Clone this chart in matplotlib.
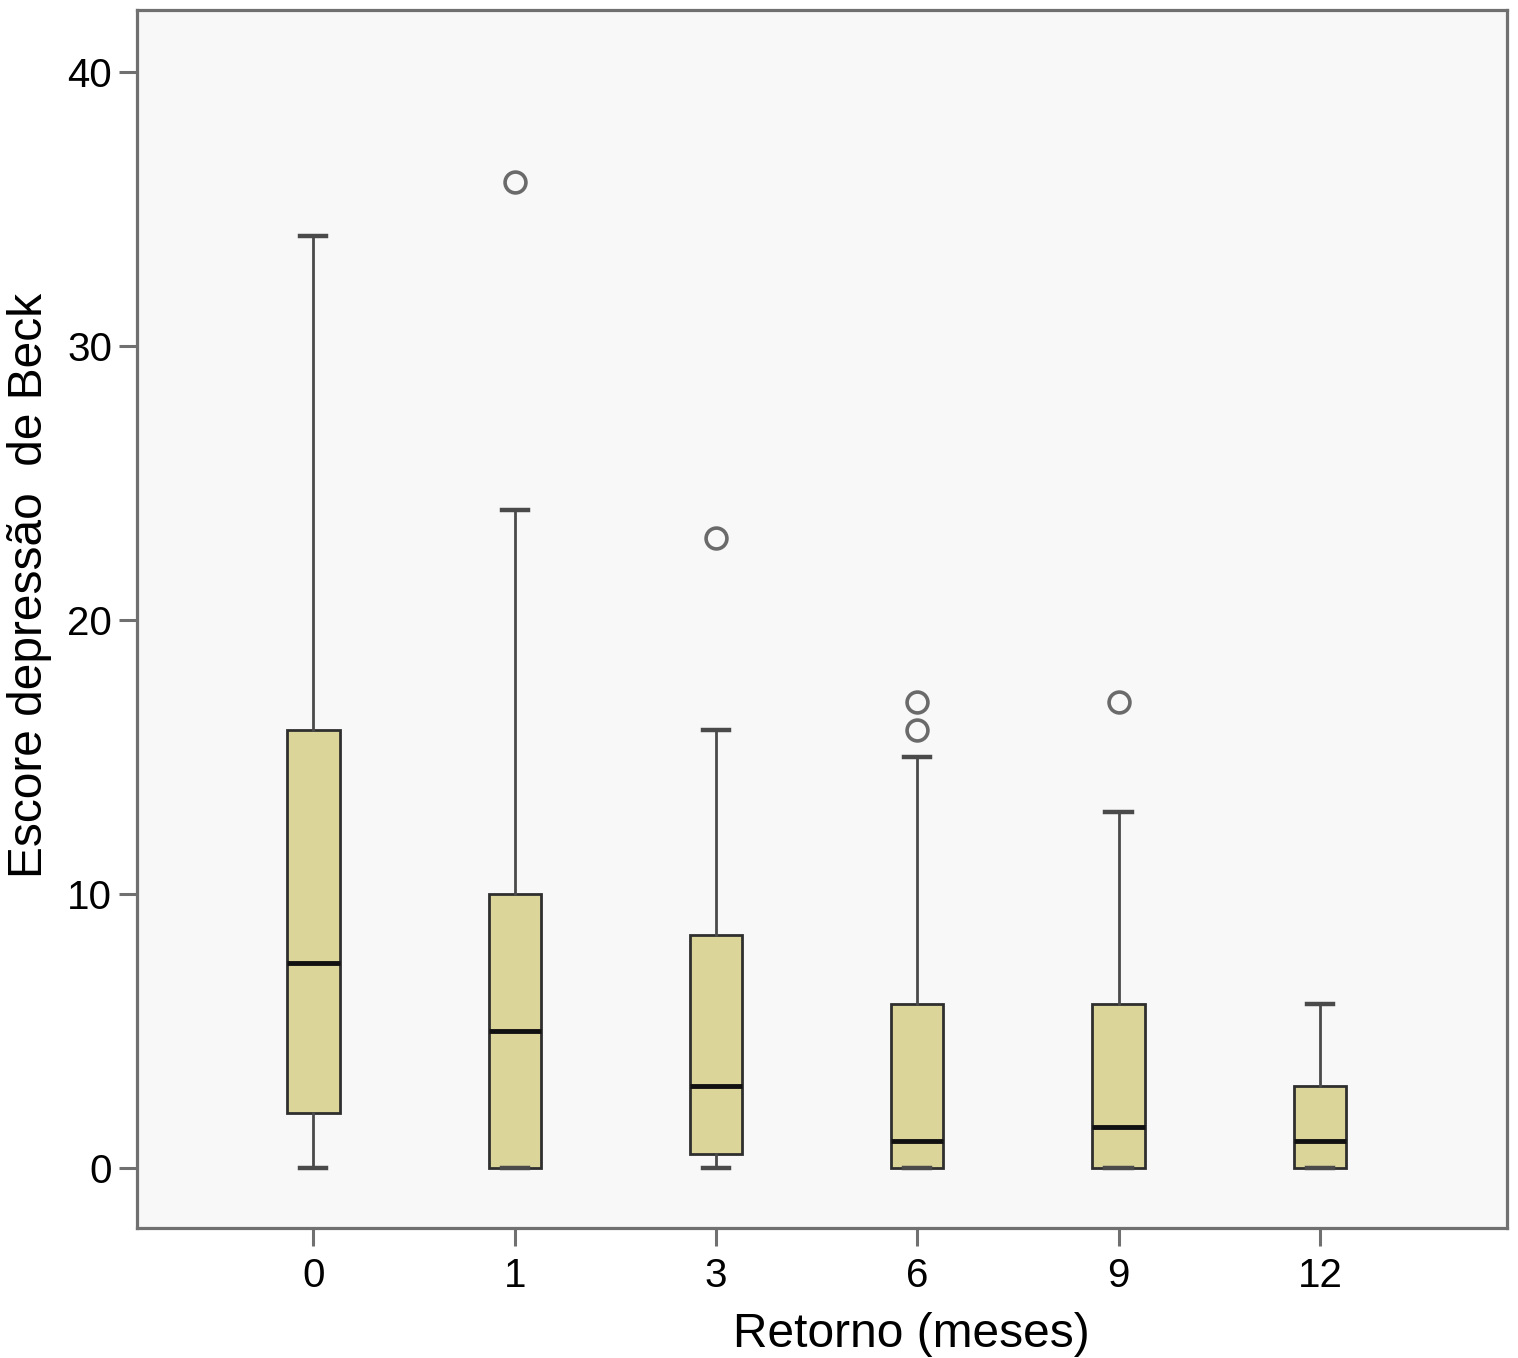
import matplotlib
matplotlib.use("Agg")
import matplotlib.pyplot as plt

plt.rcParams["font.family"] = ["Liberation Sans", "DejaVu Sans"]

# Retorno (meses) groups and box statistics
months = ["0", "1", "3", "6", "9", "12"]
whisker_low = [0, 0, 0, 0, 0, 0]
q1 = [2, 0, 0.5, 0, 0, 0]
median = [7.5, 5, 3, 1, 1.5, 1]
q3 = [16, 10, 8.5, 6, 6, 3]
whisker_high = [34, 24, 16, 15, 13, 6]
outliers = [[], [36], [23], [16, 17], [17], []]

stats = []
for i, m in enumerate(months):
    stats.append({
        "label": m, "whislo": whisker_low[i], "q1": q1[i], "med": median[i],
        "q3": q3[i], "whishi": whisker_high[i], "fliers": outliers[i],
    })

fig = plt.figure(figsize=(15.18, 13.58), dpi=100)
ax = fig.add_axes([0.0903, 0.0957, 0.9025, 0.8969])
ax.set_facecolor("#f8f8f8")

ax.bxp(stats, positions=range(len(months)), widths=0.26, patch_artist=True,
       boxprops=dict(facecolor="#dbd59a", edgecolor="#2f2f2f", linewidth=2.0),
       medianprops=dict(color="#111111", linewidth=3.5),
       whiskerprops=dict(color="#4a4a4a", linewidth=2.0),
       capprops=dict(color="#4a4a4a", linewidth=3.2),
       capwidths=0.13,
       flierprops=dict(marker="o", markersize=15, markerfacecolor="none",
                       markeredgecolor="#6a6a6a", markeredgewidth=2.6))

ax.set_xlim(-0.876, 5.93)
ax.set_ylim(-2.19, 42.26)
ax.set_yticks([0, 10, 20, 30, 40])
ax.set_xticks(range(len(months)))
ax.set_xticklabels(months)

for s in ax.spines.values():
    s.set_color("#707070")
    s.set_linewidth(2.3)
ax.tick_params(axis="both", direction="out", length=13, width=2.2,
               color="#707070", labelsize=29, pad=5)
ax.tick_params(axis="x", pad=8)

ax.set_xlabel("Retorno (meses)", fontsize=34.5)
ax.set_ylabel("Escore depressão  de Beck", fontsize=34.5)
ax.xaxis.set_label_coords(0.565, -0.069)
ax.yaxis.set_label_coords(-0.062, 0.528)

fig.savefig("out.png", dpi=100, facecolor="white")
